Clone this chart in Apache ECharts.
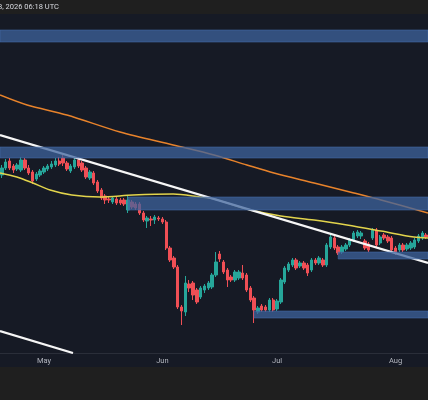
<!DOCTYPE html>
<html><head><meta charset="utf-8">
<script src="https://cdn.jsdelivr.net/npm/echarts@6/dist/echarts.min.js"></script>
<style>html,body{margin:0;padding:0;background:#1f1f1f;}#c{width:428px;height:400px;}</style>
</head><body><div id="c"></div>
<script>
// ---- data ----
const headerText = '8, 2026 06:18 UTC';
const firstDay = [2026, 3, 20]; // 2026-04-20 (UTC, month 0-based)
const dayCount = 112;
const dates = [];
(function () {
  const d = new Date(Date.UTC(firstDay[0], firstDay[1], firstDay[2]));
  for (let i = 0; i < dayCount; i++) { dates.push(d.toISOString().slice(0, 10)); d.setUTCDate(d.getUTCDate() + 1); }
})();
const monthLabels = { '05': 'May', '06': 'Jun', '07': 'Jul', '08': 'Aug' };

// daily candles: [open, close, low, high]
const candles = [
  [178,185,175,188],[185,191,183,194],[192,185,183,195],[187,183,180,189],[184,188,182,190],
  [183,193,181,196],[193,185,183,195],[185,180,178,188],[181,172,169,183],[174,179,172,181],
  [178,182,176,184],[181,185,179,187],[184,187,182,189],[186,189,184,192],[188,192,186,195],
  [192,189,187,196],[195,190,187,198],[190,184,182,192],[182,187,180,189],[186,193,184,196],
  [193,187,185,196],[190,183,181,192],[185,176,174,187],[175,181,173,183],[180,170,168,182],
  [171,162,160,173],[163,155,153,165],[157,153,149,159],[154,153,150,157],[151,155,149,157],
  [154,150,148,156],[153,150,148,155],[153,149,147,155],[143,153,140,157],[151,146,144,153],
  [149,145,143,151],[149,140,138,151],[140,133,131,142],[132,135,125,137],[134,133,127,137],
  [133,136,129,138],[135,134,132,137],[134,131,129,136],[131,105,103,133],[105,93,91,107],
  [95,86,84,97],[86,46,44,88],[46,42,28,48],[41,70,37,77],[69,65,61,73],
  [70,58,53,72],[63,51,49,65],[56,65,54,67],[63,67,60,69],[65,70,63,72],
  [66,78,64,80],[78,91,76,101],[99,94,91,102],[91,81,79,93],[83,73,66,85],
  [76,73,71,78],[73,81,71,83],[75,81,73,83],[80,75,73,88],[78,63,61,80],
  [65,53,51,67],[55,43,30,57],[41,45,39,47],[47,43,41,49],[46,43,41,48],
  [43,53,41,55],[53,43,41,55],[44,52,42,54],[51,73,49,75],[71,85,69,87],
  [83,89,81,91],[88,93,86,95],[93,85,83,95],[87,90,85,92],[90,85,83,92],
  [88,80,77,90],[83,93,81,95],[93,90,88,95],[90,95,88,97],[93,88,86,95],
  [88,108,86,110],[106,116,104,120],[115,105,103,117],[106,100,98,108],[101,106,99,108],
  [104,108,102,110],[108,113,106,115],[113,120,111,122],[117,121,115,123],[117,120,114,122],
  [112,105,103,114],[109,103,101,111],[115,123,113,125],[123,108,106,125],[110,116,108,118],
  [118,115,113,120],[116,112,110,118],[115,103,100,117],[105,100,98,107],[103,108,101,110],
  [108,103,101,110],[104,108,102,110],[105,110,103,112],[106,113,104,115],[112,117,110,119],
  [115,120,113,122],[118,116,114,120]
];

// moving averages: [day index, value]
const maOrange = [[-0.5,258],[6.6,248],[17,238],[30.9,221],[44.8,208],[55.5,198],[64.1,188],[71.2,180],[81.7,170],[92.1,160],[99.2,153],[111.5,140]];
const maYellow = [[-0.5,180],[3.9,176],[8.1,170],[12.6,163],[18.3,158],[25.7,156],[34.3,158],[44.8,159],[51.8,156],[55.5,154],[64.1,144],[73,137],[81.7,133],[90.3,128],[99.2,122],[107.8,116],[111.5,115]];

// trendlines: [day index, value]
const upperTrend = [[-0.5,218],[111.5,90]];
const lowerTrend = [[-0.5,22],[18.6,0]];

// zones: [start day index, low, high] (extend to right edge)
const zones = [[-0.5,311,323],[-0.5,195,206],[33,143,156],[66,35,42],[88,94,101]];

const yMin = 0, yMax = 339;
const xMin = -0.5, xMax = dayCount - 0.5;

// ---- chart ----
const chart = echarts.init(document.getElementById('c'), null, { renderer: 'canvas' });
chart.setOption({
  animation: false,
  backgroundColor: '#1f1f1f',
  title: {
    text: headerText, left: -2, top: 3, padding: 0,
    textStyle: { color: '#d8dae0', fontSize: 7.5, fontWeight: 'normal', fontFamily: 'Roboto' }
  },
  graphic: [{
    type: 'rect', z: -10, silent: true,
    shape: { x: 0, y: 14, width: 428, height: 353 },
    style: { fill: '#161a25' }
  }],
  grid: { left: 0, right: 0, top: 14, bottom: 47, containLabel: false },
  xAxis: [{
    type: 'category', data: dates, boundaryGap: true,
    axisLine: { show: true, lineStyle: { color: '#2a2e39', width: 1 } },
    axisTick: { show: false },
    splitLine: { show: false },
    axisLabel: {
      interval: function (i, v) { return v.slice(8) === '01'; },
      formatter: function (v) { return monthLabels[v.slice(5, 7)] || ''; },
      color: '#b2b5be', fontSize: 7.5, margin: 4, fontFamily: 'Roboto'
    }
  }, {
    type: 'value', min: xMin, max: xMax, show: false
  }],
  yAxis: [{ type: 'value', min: yMin, max: yMax, show: false, splitLine: { show: false } }],
  series: [
    {
      type: 'candlestick', xAxisIndex: 0, yAxisIndex: 0, data: candles, barWidth: '76%', z: 3,
      itemStyle: { color: '#26a69a', color0: '#ef4f55', borderColor: '#26a69a', borderColor0: '#ef4f55', borderWidth: 1 }
    },
    {
      type: 'line', xAxisIndex: 1, data: maYellow, smooth: 0.3, symbol: 'none', z: 4,
      lineStyle: { color: '#e2d44c', width: 1.5 }
    },
    {
      type: 'line', xAxisIndex: 1, data: maOrange, smooth: 0.3, symbol: 'none', z: 4,
      lineStyle: { color: '#e8832b', width: 1.5 }
    },
    {
      type: 'line', xAxisIndex: 1, data: upperTrend, symbol: 'none', z: 5,
      lineStyle: { color: '#f6f6f6', width: 2.2 }
    },
    {
      type: 'line', xAxisIndex: 1, data: lowerTrend, symbol: 'none', z: 5,
      lineStyle: { color: '#f6f6f6', width: 2.2 }
    },
    {
      type: 'custom', xAxisIndex: 1, yAxisIndex: 0, data: zones, z: 10, clip: true,
      encode: { x: 0, y: [1, 2] },
      renderItem: function (params, api) {
        const p1 = api.coord([api.value(0), api.value(2)]);
        const p2 = api.coord([xMax, api.value(1)]);
        return {
          type: 'rect',
          shape: { x: p1[0], y: p1[1], width: p2[0] - p1[0], height: p2[1] - p1[1] },
          style: { fill: 'rgba(62,100,158,0.74)', stroke: 'rgba(70,108,168,0.7)', lineWidth: 0.8 }
        };
      }
    }
  ]
});
</script>
</body></html>
